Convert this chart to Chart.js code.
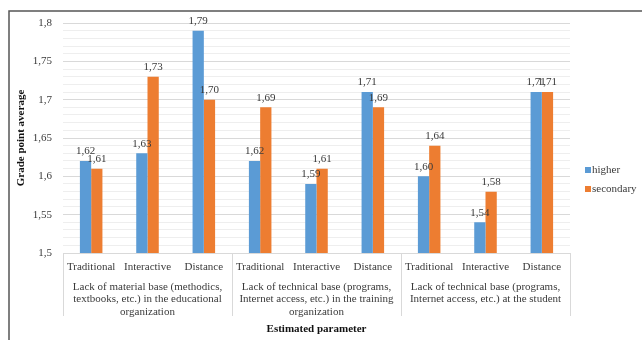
<!DOCTYPE html>
<html>
<head>
<meta charset="utf-8">
<script src="https://cdn.jsdelivr.net/npm/chart.js@4/dist/chart.umd.min.js"></script>
<style>
  html, body { margin: 0; padding: 0; background: #fff; }
  #wrap { width: 642px; height: 340px; position: relative; }
</style>
</head>
<body>
<div id="wrap"><canvas id="c" width="642" height="340"></canvas></div>
<script>
// Teaching methods (inner axis level)
const methods = ['Traditional', 'Interactive', 'Distance',
                 'Traditional', 'Interactive', 'Distance',
                 'Traditional', 'Interactive', 'Distance'];

// Estimated parameters (outer axis level), three methods each
const parameterGroups = [
  ['Lack of material base (methodics,', 'textbooks, etc.) in the educational', 'organization'],
  ['Lack of technical base (programs,', 'Internet access, etc.) in the training', 'organization'],
  ['Lack of technical base (programs,', 'Internet access, etc.) at the student']
];
const methodsPerGroup = 3;

const seriesNames = ['higher', 'secondary'];
const higher    = [1.62, 1.63, 1.79, 1.62, 1.59, 1.71, 1.60, 1.54, 1.71];
const secondary = [1.61, 1.73, 1.70, 1.69, 1.61, 1.69, 1.64, 1.58, 1.71];

const yMin = 1.5, yMax = 1.8, yMinorStep = 0.01, yMajorEvery = 5;

const BLUE = '#5B9BD5', ORANGE = '#ED7D31';
const TEXT = '#3a3a3a';
const SERIF = '"Liberation Serif", "Times New Roman", serif';

const fmtComma = (v, digits) => (digits == null ? String(v) : v.toFixed(digits)).replace('.', ',');
const hundredths = v => Math.round(v * 100);
const isMajor = v => hundredths(v) % yMajorEvery === 0;

// outer frame around the figure
const framePlugin = {
  id: 'frame',
  beforeDraw(chart) {
    const ctx = chart.ctx;
    ctx.save();
    ctx.strokeStyle = '#555';
    ctx.lineWidth = 1.5;
    ctx.beginPath();
    ctx.moveTo(chart.width, 11);
    ctx.lineTo(9, 11);
    ctx.lineTo(9, chart.height);
    ctx.stroke();
    ctx.restore();
  }
};

// values written above each bar
const valueLabels = {
  id: 'valueLabels',
  afterDatasetsDraw(chart) {
    const ctx = chart.ctx;
    ctx.save();
    ctx.font = '11px ' + SERIF;
    ctx.fillStyle = TEXT;
    ctx.textAlign = 'center';
    ctx.textBaseline = 'bottom';
    chart.data.datasets.forEach((ds, di) => {
      chart.getDatasetMeta(di).data.forEach((bar, i) => {
        ctx.fillText(fmtComma(ds.data[i], 2), bar.x, bar.y - 4);
      });
    });
    ctx.restore();
  }
};

// second category level: separators and parameter names
const groupAxis = {
  id: 'groupAxis',
  afterDraw(chart) {
    const x = chart.scales.x;
    const ctx = chart.ctx;
    const bottom = chart.chartArea.bottom;
    const step = x.getPixelForValue(1) - x.getPixelForValue(0);
    const edge = i => x.getPixelForValue(i) - step / 2;
    ctx.save();
    ctx.strokeStyle = '#d9d9d9';
    ctx.lineWidth = 1;
    for (let g = 0; g <= parameterGroups.length; g++) {
      const px = Math.round(edge(g * methodsPerGroup)) + 0.5;
      ctx.beginPath();
      ctx.moveTo(px, bottom);
      ctx.lineTo(px, bottom + 63);
      ctx.stroke();
    }
    ctx.font = '11px ' + SERIF;
    ctx.fillStyle = TEXT;
    ctx.textAlign = 'center';
    ctx.textBaseline = 'middle';
    parameterGroups.forEach((lines, g) => {
      const cx = (edge(g * methodsPerGroup) + edge((g + 1) * methodsPerGroup)) / 2;
      lines.forEach((line, k) => ctx.fillText(line, cx, bottom + 34 + k * 12.5));
    });
    ctx.restore();
  }
};

// legend on the right side
const sideLegend = {
  id: 'sideLegend',
  afterDraw(chart) {
    const ctx = chart.ctx;
    const x0 = chart.chartArea.right + 15;
    const y0 = chart.height / 2;
    ctx.save();
    ctx.font = '11px ' + SERIF;
    ctx.textBaseline = 'middle';
    ctx.textAlign = 'left';
    chart.data.datasets.forEach((ds, i) => {
      const y = y0 + i * 19;
      ctx.fillStyle = ds.backgroundColor;
      ctx.fillRect(x0, y - 3, 6, 6);
      ctx.fillStyle = TEXT;
      ctx.fillText(ds.label, x0 + 7, y);
    });
    ctx.restore();
  }
};

new Chart(document.getElementById('c'), {
  type: 'bar',
  data: {
    labels: methods,
    datasets: [
      { label: seriesNames[0], data: higher, backgroundColor: BLUE },
      { label: seriesNames[1], data: secondary, backgroundColor: ORANGE }
    ]
  },
  options: {
    responsive: false,
    animation: false,
    layout: { padding: { left: 9, right: 72, top: 23, bottom: 0 } },
    datasets: { bar: { categoryPercentage: 0.4, barPercentage: 1.0 } },
    plugins: { legend: { display: false }, tooltip: { enabled: false } },
    scales: {
      x: {
        grid: { display: false, drawTicks: false },
        border: { display: true, color: '#d9d9d9' },
        ticks: { color: TEXT, font: { family: SERIF, size: 11 }, padding: 8, maxRotation: 0, autoSkip: false },
        title: {
          display: true, text: 'Estimated parameter', color: '#111',
          font: { family: SERIF, size: 11, weight: 'bold' }, padding: { top: 0, bottom: 4 }
        },
        afterFit(scale) { scale.height = 87; }
      },
      y: {
        min: yMin, max: yMax,
        grid: {
          drawTicks: false,
          color: ctx => isMajor(ctx.tick.value) ? '#d9d9d9' : '#eeeeee'
        },
        border: { display: false },
        ticks: {
          stepSize: yMinorStep, autoSkip: false, padding: 11,
          color: TEXT, font: { family: SERIF, size: 11 },
          callback: v => isMajor(v) ? fmtComma(hundredths(v) / 100) : ''
        },
        title: {
          display: true, text: 'Grade point average', color: '#111',
          font: { family: SERIF, size: 11, weight: 'bold' }, padding: { top: 6, bottom: 0 }
        },
        afterFit(scale) { scale.width = 54; }
      }
    }
  },
  plugins: [framePlugin, valueLabels, groupAxis, sideLegend]
});
</script>
</body>
</html>
